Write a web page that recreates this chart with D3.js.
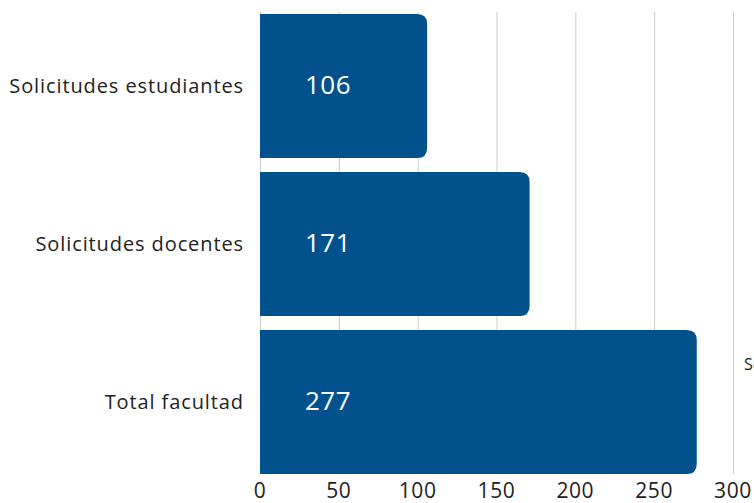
<!DOCTYPE html>
<html>
<head>
<meta charset="utf-8">
<script src="https://cdn.jsdelivr.net/npm/d3@7"></script>
<style>
  body { margin: 0; background: #fff; }
  svg { display: block; }
</style>
</head>
<body>
<script>
// datos del grafico
var categories = ["Solicitudes estudiantes", "Solicitudes docentes", "Total facultad"];
var values = [106, 171, 277];
var ticks = [0, 50, 100, 150, 200, 250, 300];

var W = 754, H = 503;
var barColor = "#00518c";
var font = "'Open Sans', sans-serif";

var svg = d3.select("body").append("svg")
    .attr("width", W)
    .attr("height", H);

var x = d3.scaleLinear().domain([0, 300]).range([260, 733]);
var y = d3.scaleBand().domain(categories).range([7, 481]).paddingInner(0.0886).paddingOuter(0.0443);

// griglia verticale
svg.append("g").selectAll("line")
    .data(ticks)
    .enter().append("line")
    .attr("x1", d => x(d) + 0.5)
    .attr("x2", d => x(d) + 0.5)
    .attr("y1", 12)
    .attr("y2", 474)
    .style("stroke", "#cccccc")
    .style("stroke-width", 1);

// barre con angoli arrotondati a destra
function barPath(x0, x1, y0, h, r) {
    return "M" + x0 + "," + y0 +
        "H" + (x1 - r) +
        "Q" + x1 + "," + y0 + " " + x1 + "," + (y0 + r) +
        "V" + (y0 + h - r) +
        "Q" + x1 + "," + (y0 + h) + " " + (x1 - r) + "," + (y0 + h) +
        "H" + x0 + "Z";
}

var data = categories.map((c, i) => ({ cat: c, value: values[i] }));

svg.append("g").selectAll("path")
    .data(data)
    .enter().append("path")
    .attr("d", d => barPath(x(0), x(d.value), y(d.cat), y.bandwidth(), 10))
    .attr("fill", barColor);

// etichette valori
svg.append("g").selectAll("text")
    .data(data)
    .enter().append("text")
    .attr("x", 305)
    .attr("y", d => y(d.cat) + y.bandwidth() / 2 - 1)
    .attr("dy", "0.36em")
    .text(d => d.value)
    .attr("fill", "#ffffff")
    .attr("font-size", 26)
    .attr("letter-spacing", 0.5)
    .attr("font-family", font);

// etichette categorie
svg.append("g").selectAll("text")
    .data(categories)
    .enter().append("text")
    .attr("x", 244)
    .attr("y", d => y(d) + y.bandwidth() / 2)
    .attr("dy", "0.35em")
    .attr("text-anchor", "end")
    .text(d => d)
    .attr("fill", "#222222")
    .attr("font-size", 20)
    .attr("letter-spacing", 0.9)
    .attr("font-family", font);

// asse x
svg.append("g").selectAll("text")
    .data(ticks)
    .enter().append("text")
    .attr("x", d => x(d))
    .attr("y", 491)
    .attr("dy", "0.35em")
    .attr("text-anchor", "middle")
    .text(d => d)
    .attr("fill", "#222222")
    .attr("font-size", 21)
    .attr("letter-spacing", 0.6)
    .attr("font-family", font);

// legenda tagliata a destra
svg.append("text")
    .attr("x", 744)
    .attr("y", 370)
    .text("Serie 1")
    .attr("fill", "#222222")
    .attr("font-size", 16)
    .attr("font-family", font);
</script>
</body>
</html>
